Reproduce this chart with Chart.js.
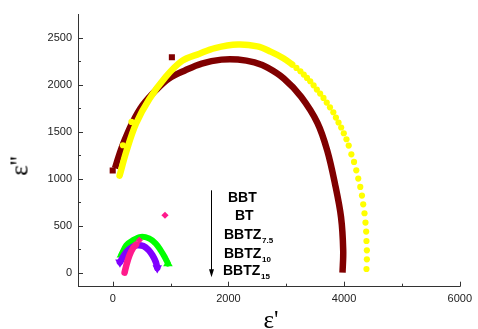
<!DOCTYPE html>
<html><head><meta charset="utf-8">
<script src="https://cdn.jsdelivr.net/npm/chart.js@4.4.0/dist/chart.umd.min.js"></script>
<style>
html,body{margin:0;padding:0;background:#fff;}
#wrap{position:relative;width:478px;height:329px;overflow:hidden;background:#fff;}
canvas{position:absolute;left:0;top:0;}
.lab{position:absolute;font-family:"Liberation Sans",Arial,sans-serif;font-weight:bold;font-size:14px;line-height:14px;color:#000;white-space:nowrap;}
.sub{position:absolute;font-family:"Liberation Sans",Arial,sans-serif;font-weight:bold;font-size:8px;line-height:8px;color:#000;white-space:nowrap;}
.ttl{position:absolute;font-family:"Liberation Serif","Times New Roman",serif;font-size:25px;line-height:25px;color:#000;white-space:nowrap;}
</style></head>
<body><div id="wrap"><canvas id="c" width="478" height="329"></canvas>
<div class="lab" style="left:228px;top:190px;">BBT</div>
<div class="lab" style="left:235px;top:208px;">BT</div>
<div class="lab" style="left:224px;top:226.6px;">BBTZ</div><div class="sub" style="left:262px;top:236.7px;">7.5</div>
<div class="lab" style="left:224px;top:246.1px;">BBTZ</div><div class="sub" style="left:262px;top:255.7px;">10</div>
<div class="lab" style="left:223px;top:263.1px;">BBTZ</div><div class="sub" style="left:261px;top:273.2px;">15</div>
<div class="ttl" style="left:271px;top:307.4px;transform:translateX(-50%);">ε'</div>
<div class="ttl" style="left:19px;top:166px;transform:translate(-50%,-50%) rotate(-90deg);">ε''</div>
</div>
<script>
// ---- data ----
const xTicks = [0, 2000, 4000, 6000];
const xMinor = [1000, 3000, 5000];
const yTicks = [0, 500, 1000, 1500, 2000, 2500];
const yMinor = [250, 750, 1250, 1750, 2250];

const bbtX = [40, 100, 205, 346, 517, 745, 972, 1256, 1540, 1881, 2165, 2450, 2677, 2958, 3257, 3538, 3708, 3842, 3947, 3985, 3973];
const bbtY = [1110, 1230, 1407, 1602, 1780, 1939, 2064, 2152, 2223, 2265, 2266, 2235, 2179, 2064, 1870, 1594, 1300, 947, 591, 237, 0];
const bbtMarkX = [0, 1023];
const bbtMarkY = [1085, 2290];

const btX = [119, 233, 404, 631, 916, 1199, 1500, 1768, 2165, 2500, 2730, 2950, 3103];
const btY = [1030, 1283, 1585, 1843, 2081, 2251, 2328, 2388, 2425, 2405, 2350, 2280, 2213];
const btDotX = [176, 324, 3176, 3245, 3303, 3359, 3415, 3473, 3529, 3586, 3644, 3700, 3756, 3814, 3859, 3904, 3950, 3995, 4041, 4080, 4126, 4172, 4211, 4245, 4280, 4309, 4331, 4353, 4370, 4382, 4387, 4394, 4394, 4387];
const btDotY = [1354, 1602, 2177, 2141, 2106, 2070, 2035, 1992, 1946, 1904, 1857, 1808, 1758, 1705, 1649, 1596, 1543, 1482, 1418, 1351, 1258, 1177, 1088, 1000, 911, 819, 726, 631, 532, 436, 336, 237, 141, 38];

const z75X = [150, 234, 346, 489, 631, 745, 830, 899, 955];
const z75Y = [190, 290, 344, 380, 362, 309, 237, 166, 96];

const z10X = [125, 234, 346, 430, 530, 620, 687, 745, 770];
const z10Y = [110, 219, 275, 290, 282, 240, 184, 113, 50];

const z15X = [205, 244, 290, 346, 404];
const z15Y = [0, 96, 184, 255, 298];
const z15MarkX = [460, 904];
const z15MarkY = [344, 610];

const arrowX = 1700, arrowTop = 875, arrowBottom = -50;

// ---- build ----
const pts = (xs, ys) => xs.map((x, i) => ({x: x, y: ys[i]}));
const ends = (n, r) => Array.from({length: n}, (_, i) => (i === 0 || i === n - 1) ? r : 0);

const lineDs = (xs, ys, color, w, cap) => ({
  data: pts(xs, ys), showLine: true, borderColor: color, backgroundColor: color,
  borderWidth: w, pointRadius: 0, tension: 0.35, borderCapStyle: cap || 'round', fill: false
});

const datasets = [
  {data: pts(z15MarkX, z15MarkY), pointStyle: 'rectRot', pointRadius: 3.6, backgroundColor: '#ff1a8c', borderWidth: 0},
  lineDs(z15X, z15Y, '#ff1a8c', 6.5),
  Object.assign(lineDs(z10X, z10Y, '#8000ff', 6.5), {pointRadius: ends(z10X.length, 5.5), pointStyle: 'triangle', rotation: 180, pointBorderWidth: 0}),
  Object.assign(lineDs(z75X, z75Y, '#00ff00', 6), {pointRadius: ends(z75X.length, 5.5), pointStyle: 'triangle', pointBorderWidth: 0}),
  {data: pts(btDotX, btDotY), pointStyle: 'circle', pointRadius: 3.1, backgroundColor: '#ffff00', borderWidth: 0},
  lineDs(btX, btY, '#ffff00', 6.5),
  {data: pts(bbtMarkX, bbtMarkY), pointStyle: 'rect', pointRadius: 4.3, backgroundColor: '#800000', borderWidth: 0},
  lineDs(bbtX, bbtY, '#800000', 6.5, 'butt')
];

const extras = {
  id: 'extras',
  afterDraw(chart) {
    const {ctx, scales: {x, y}, chartArea: a} = chart;
    ctx.save();
    ctx.strokeStyle = '#333'; ctx.lineWidth = 1;
    ctx.beginPath();
    xTicks.forEach(v => { const p = Math.round(x.getPixelForValue(v)) + 0.5; ctx.moveTo(p, a.bottom); ctx.lineTo(p, a.bottom - 5); });
    xMinor.forEach(v => { const p = Math.round(x.getPixelForValue(v)) + 0.5; ctx.moveTo(p, a.bottom); ctx.lineTo(p, a.bottom - 3); });
    yTicks.forEach(v => { const p = Math.round(y.getPixelForValue(v)) + 0.5; ctx.moveTo(a.left, p); ctx.lineTo(a.left + 5, p); });
    yMinor.forEach(v => { const p = Math.round(y.getPixelForValue(v)) + 0.5; ctx.moveTo(a.left, p); ctx.lineTo(a.left + 3, p); });
    ctx.stroke();
    // arrow
    const ax = Math.round(x.getPixelForValue(arrowX)) + 0.5;
    const at = y.getPixelForValue(arrowTop), ab = y.getPixelForValue(arrowBottom);
    ctx.strokeStyle = '#000'; ctx.fillStyle = '#000';
    ctx.beginPath(); ctx.moveTo(ax, at); ctx.lineTo(ax, ab - 6); ctx.stroke();
    ctx.beginPath(); ctx.moveTo(ax - 2.5, ab - 8); ctx.lineTo(ax + 2.5, ab - 8); ctx.lineTo(ax, ab); ctx.closePath(); ctx.fill();
    ctx.restore();
  }
};

const tickFont = {family: '"Liberation Sans", Arial, sans-serif', size: 11};
const plain = v => String(v);

new Chart(document.getElementById('c'), {
  type: 'scatter',
  data: {datasets: datasets},
  options: {
    responsive: false, animation: false, events: [],
    layout: {padding: {top: 14, right: 13, left: 0, bottom: 0}},
    plugins: {legend: {display: false}, tooltip: {enabled: false}},
    scales: {
      x: {
        type: 'linear', min: -600, max: 6000,
        afterBuildTicks: s => { s.ticks = xTicks.map(v => ({value: v})); },
        afterFit: s => { s.height = 42.3; },
        grid: {display: true, drawOnChartArea: false, drawTicks: false},
        border: {display: true, color: '#333', width: 1},
        ticks: {padding: 6, font: tickFont, color: '#222', autoSkip: false, maxRotation: 0, callback: plain}
      },
      y: {
        type: 'linear', min: -150, max: 2750,
        afterBuildTicks: s => { s.ticks = yTicks.map(v => ({value: v})); },
        afterFit: s => { s.width = 78; },
        grid: {display: true, drawOnChartArea: false, drawTicks: false},
        border: {display: true, color: '#333', width: 1},
        ticks: {padding: 6, font: tickFont, color: '#222', autoSkip: false, callback: plain}
      }
    }
  },
  plugins: [extras]
});
</script>
</body></html>
